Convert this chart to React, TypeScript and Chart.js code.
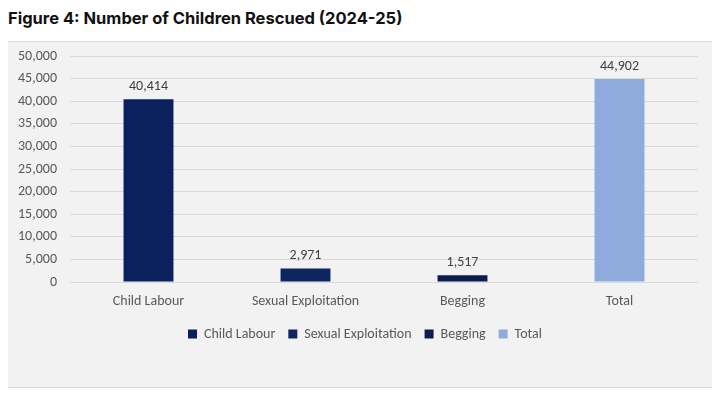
import React, { useEffect, useRef } from "react";
import { Chart, registerables } from "chart.js";

Chart.register(...registerables);

const TITLE = "Figure 4: Number of Children Rescued (2024-25)";
const categories = ["Child Labour", "Sexual Exploitation", "Begging", "Total"];
const values = [40414, 2971, 1517, 44902];
const seriesColors = ["#0b215e", "#0e2660", "#0c1d4d", "#8faadc"];
const yTicks = { min: 0, max: 50000, step: 5000 };

const FONT = "Carlito, Lato, sans-serif";

const fmt = (v: number) => v.toLocaleString("en-US");

const dataLabels = {
  id: "dataLabels",
  afterDatasetsDraw(chart: any) {
    const ctx = chart.ctx;
    ctx.save();
    ctx.font = `14px ${FONT}`;
    ctx.fillStyle = "#404040";
    ctx.textAlign = "center";
    ctx.textBaseline = "middle";
    chart.data.datasets.forEach((ds: any, i: number) => {
      const meta = chart.getDatasetMeta(i);
      meta.data.forEach((el: any, j: number) => {
        const v = ds.data[j];
        if (v == null) return;
        ctx.fillText(fmt(v), el.x, el.y - 13);
      });
    });
    ctx.restore();
  },
};

const legendShift = {
  id: "legendShift",
  afterLayout(chart: any) {
    const lg = chart.legend;
    if (lg) {
      lg.left += 12;
      lg.right += 12;
    }
  },
};

export default function App() {
  const ref = useRef<HTMLCanvasElement>(null);
  useEffect(() => {
    if (!ref.current) return;
    const datasets = categories.map((name, i) => ({
      label: name,
      data: categories.map((_, j) => (j === i ? values[i] : null)),
      backgroundColor: seriesColors[i],
      borderWidth: 0,
    }));
    const chart = new Chart(ref.current, {
      type: "bar",
      data: { labels: categories, datasets },
      plugins: [dataLabels, legendShift],
      options: {
        animation: false,
        responsive: false,
        layout: { padding: { top: 14, right: 15, bottom: 36, left: 0 } },
        datasets: { bar: { grouped: false, categoryPercentage: 1, barPercentage: 0.318 } },
        scales: {
          x: {
            grid: { display: false },
            border: { display: false },
            ticks: { color: "#595959", font: { family: FONT, size: 14 }, padding: 3 },
            afterFit(s: any) {
              s.height = 32;
              s.paddingLeft = 0;
              s.paddingRight = 0;
            },
          },
          y: {
            min: yTicks.min,
            max: yTicks.max,
            grid: { color: "#d9d9d9", drawTicks: false },
            border: { display: false },
            ticks: {
              stepSize: yTicks.step,
              color: "#595959",
              font: { family: FONT, size: 14 },
              padding: 13,
              callback: (v: any) => fmt(Number(v)),
            },
            afterFit(s: any) {
              s.width = 62;
              s.paddingTop = 0;
              s.paddingBottom = 0;
            },
          },
        },
        plugins: {
          legend: {
            position: "bottom",
            labels: {
              boxWidth: 9,
              boxHeight: 9,
              padding: 13,
              color: "#595959",
              font: { family: FONT, size: 14 },
            },
          },
          tooltip: { enabled: false },
          title: { display: false },
        },
      },
    });
    return () => chart.destroy();
  }, []);

  return (
    <div>
      <div
        style={{
          fontFamily: "Inter, sans-serif",
          fontWeight: 700,
          fontSize: 16.5,
          lineHeight: "20px",
          height: 20,
          color: "#111",
        }}
      >
        {TITLE}
      </div>
      <div
        style={{
          position: "relative",
          marginTop: 13,
          marginLeft: -1,
          width: 707,
          height: 347,
          boxSizing: "border-box",
          border: "1px solid #d9d9d9",
          background: "#f2f2f2",
        }}
      >
        <canvas ref={ref} width={705} height={345} style={{ display: "block" }} />
      </div>
    </div>
  );
}
